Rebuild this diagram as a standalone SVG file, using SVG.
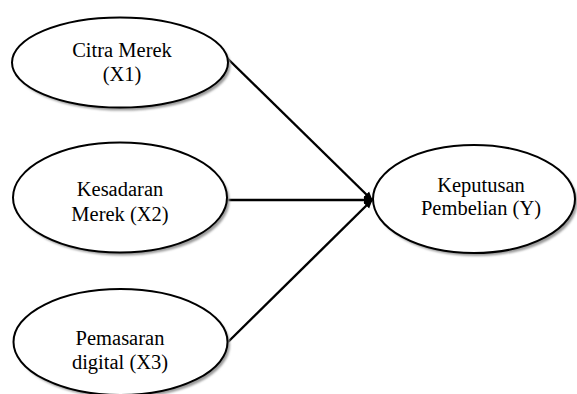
<svg xmlns="http://www.w3.org/2000/svg" width="577" height="394" viewBox="0 0 577 394">
<defs>
<marker id="ah" markerWidth="10" markerHeight="10" refX="8" refY="5" orient="auto" markerUnits="userSpaceOnUse">
<path d="M0,1 L9,5 L0,9 Z" fill="#000"/>
</marker>
<filter id="blur" x="-10%" y="-10%" width="120%" height="120%"><feGaussianBlur stdDeviation="1"/></filter>
</defs>
<style>
.sh{fill:#9a9a9a;filter:url(#blur)}
.el{fill:#fff;stroke:#000;stroke-width:2}
.t{font-size:20.5px;fill:#000;text-anchor:middle;white-space:pre}
.cn{stroke:#000;stroke-width:2.4;fill:none}
</style>
<rect width="577" height="394" fill="#fff"/>
<g id="connectors">
<line class="cn" x1="227" y1="58" x2="372" y2="200" marker-end="url(#ah)"/>
<line class="cn" x1="228" y1="200" x2="372" y2="200" marker-end="url(#ah)"/>
<line class="cn" x1="228" y1="342" x2="372" y2="200" marker-end="url(#ah)"/>
</g>
<g id="x1" font-family="Liberation Serif, serif">
<ellipse class="sh" cx="122.5" cy="65.5" rx="108" ry="45"/>
<ellipse class="el" cx="120" cy="62.5" rx="108" ry="45"/>
<text class="t" x="122" y="57">Citra Merek</text>
<text class="t" x="122" y="81">(X1)</text>
</g>
<g id="x2" font-family="Liberation Serif, serif">
<ellipse class="sh" cx="122.5" cy="200.5" rx="107" ry="55"/>
<ellipse class="el" cx="120" cy="197.5" rx="107" ry="55"/>
<text class="t" x="120" y="196">Kesadaran</text>
<text class="t" x="120" y="221">Merek (X2)</text>
</g>
<g id="x3" font-family="Liberation Serif, serif">
<ellipse class="sh" cx="123" cy="345" rx="107" ry="53"/>
<ellipse class="el" cx="120.5" cy="342" rx="107" ry="53"/>
<text class="t" x="120" y="345">Pemasaran</text>
<text class="t" x="120" y="369">digital (X3)</text>
</g>
<g id="y" font-family="Liberation Serif, serif">
<ellipse class="sh" cx="476.5" cy="202" rx="101" ry="54"/>
<ellipse class="el" cx="474" cy="199" rx="101" ry="54"/>
<text class="t" x="481" y="192">Keputusan</text>
<text class="t" x="481" y="215">Pembelian (Y)</text>
</g>
</svg>
